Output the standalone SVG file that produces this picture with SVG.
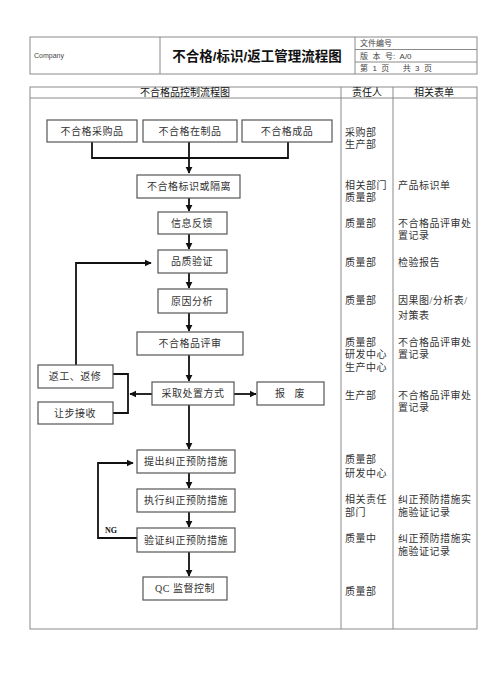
<svg xmlns="http://www.w3.org/2000/svg" width="500" height="694" viewBox="0 0 500 694">
<defs>
<marker id="arr" viewBox="0 0 10 10" refX="9" refY="5" markerWidth="4" markerHeight="4" orient="auto" markerUnits="strokeWidth">
<path d="M0,0 L10,5 L0,10 z" fill="#111"/>
</marker>
</defs>
<style>
.grid{fill:none;stroke:#8a8a8a;stroke-width:1}
.box{fill:#fff;stroke:#555;stroke-width:1.2}
.t{font-family:"Liberation Serif","Noto Sans CJK SC",serif;font-size:10px;fill:#333;letter-spacing:0.5px}
.c{text-anchor:middle}
.h{font-family:"Liberation Sans","Noto Sans CJK SC",sans-serif;font-size:10px;fill:#111;text-anchor:middle}
.s{font-family:"Liberation Sans","Noto Sans CJK SC",sans-serif;font-size:8px;fill:#444}
.con{fill:none;stroke:#111;stroke-width:1.8}
</style>
<rect width="500" height="694" fill="#fff"/>
<g id="header">
<rect class="grid" x="30" y="37" width="447" height="37"/>
<line class="grid" x1="160" y1="37" x2="160" y2="74"/>
<line class="grid" x1="355" y1="37" x2="355" y2="74"/>
<line class="grid" x1="355" y1="49.5" x2="477" y2="49.5"/>
<line class="grid" x1="355" y1="62" x2="477" y2="62"/>
<text x="34" y="58" font-family="Liberation Sans, sans-serif" font-size="7" fill="#444">Company</text>
<text x="257" y="61" font-family="'Liberation Sans', 'Noto Sans CJK SC', sans-serif" font-size="13.5" font-weight="bold" fill="#111" text-anchor="middle">不合格/标识/返工管理流程图</text>
<text class="s" x="360" y="46">文件编号</text>
<text class="s" x="360" y="59" xml:space="preserve">版  本  号:  A/0</text>
<text class="s" x="360" y="71" xml:space="preserve">第  1  页      共  3  页</text>
</g>
<g id="table">
<rect class="grid" x="30" y="87" width="447" height="542"/>
<line class="grid" x1="30" y1="98" x2="477" y2="98"/>
<line class="grid" x1="341" y1="87" x2="341" y2="629"/>
<line class="grid" x1="393" y1="87" x2="393" y2="629"/>
<text class="h" x="185" y="96">不合格品控制流程图</text>
<text class="h" x="367" y="96">责任人</text>
<text class="h" x="434" y="96">相关表单</text>
</g>
<g id="connectors">
<polyline class="con" points="92,142 92,158 288,158 288,142"/>
<line class="con" x1="189" y1="142" x2="189" y2="158"/>
<line class="con" x1="189" y1="158" x2="189" y2="173" marker-end="url(#arr)"/>
<line class="con" x1="189" y1="198" x2="189" y2="211" marker-end="url(#arr)"/>
<line class="con" x1="189" y1="234" x2="189" y2="249" marker-end="url(#arr)"/>
<line class="con" x1="189" y1="273" x2="189" y2="288" marker-end="url(#arr)"/>
<line class="con" x1="189" y1="313" x2="189" y2="331" marker-end="url(#arr)"/>
<line class="con" x1="189" y1="355" x2="189" y2="381" marker-end="url(#arr)"/>
<polyline class="con" points="76,365 76,263 151,263" marker-end="url(#arr)"/>
<polyline class="con" points="113,374 128,374 128,413 113,413"/>
<line class="con" x1="152" y1="394" x2="130" y2="394" marker-end="url(#arr)"/>
<line class="con" x1="234" y1="394" x2="256" y2="394" marker-end="url(#arr)"/>
<line class="con" x1="189" y1="405" x2="189" y2="449" marker-end="url(#arr)"/>
<line class="con" x1="189" y1="473" x2="189" y2="488" marker-end="url(#arr)"/>
<line class="con" x1="189" y1="512" x2="189" y2="527" marker-end="url(#arr)"/>
<line class="con" x1="189" y1="552" x2="189" y2="576" marker-end="url(#arr)"/>
<polyline class="con" points="137,538 98,538 98,463 133,463" marker-end="url(#arr)"/>
<text x="105" y="533" font-family="'Liberation Serif', serif" font-size="8" font-weight="bold" fill="#111">NG</text>
</g>
<g id="n1"><rect class="box" x="47" y="120" width="90" height="22"/><text class="t c" x="92" y="135">不合格采购品</text></g>
<g id="n2"><rect class="box" x="143" y="120" width="94" height="22"/><text class="t c" x="190" y="135">不合格在制品</text></g>
<g id="n3"><rect class="box" x="242" y="120" width="90" height="22"/><text class="t c" x="287" y="135">不合格成品</text></g>
<g id="n4"><rect class="box" x="137" y="175" width="103" height="23"/><text class="t c" x="189" y="190">不合格标识或隔离</text></g>
<g id="n5"><rect class="box" x="158" y="212" width="69" height="22"/><text class="t c" x="192" y="227">信息反馈</text></g>
<g id="n6"><rect class="box" x="158" y="250" width="69" height="23"/><text class="t c" x="192" y="265">品质验证</text></g>
<g id="n7"><rect class="box" x="158" y="289" width="69" height="24"/><text class="t c" x="192" y="305">原因分析</text></g>
<g id="n8"><rect class="box" x="137" y="332" width="106" height="23"/><text class="t c" x="190" y="347">不合格品评审</text></g>
<g id="n9"><rect class="box" x="38" y="365" width="75" height="23"/><text class="t c" x="75" y="380">返工、返修</text></g>
<g id="n10"><rect class="box" x="38" y="402" width="75" height="22"/><text class="t c" x="75" y="417">让步接收</text></g>
<g id="n11"><rect class="box" x="152" y="382" width="82" height="23"/><text class="t c" x="193" y="397">采取处置方式</text></g>
<g id="n12"><rect class="box" x="257" y="382" width="67" height="23"/><text class="t c" x="290" y="397" xml:space="preserve">报   废</text></g>
<g id="n13"><rect class="box" x="137" y="450" width="98" height="23"/><text class="t c" x="186" y="465">提出纠正预防措施</text></g>
<g id="n14"><rect class="box" x="137" y="489" width="98" height="23"/><text class="t c" x="186" y="504">执行纠正预防措施</text></g>
<g id="n15"><rect class="box" x="137" y="528" width="98" height="24"/><text class="t c" x="186" y="544">验证纠正预防措施</text></g>
<g id="n16"><rect class="box" x="143" y="577" width="84" height="23"/><text class="t c" x="185" y="592">QC 监督控制</text></g>
<g id="resp">
<text class="t" x="345" y="136">采购部</text>
<text class="t" x="345" y="148">生产部</text>
<text class="t" x="345" y="189">相关部门</text>
<text class="t" x="345" y="201">质量部</text>
<text class="t" x="345" y="227">质量部</text>
<text class="t" x="345" y="266">质量部</text>
<text class="t" x="345" y="304">质量部</text>
<text class="t" x="345" y="346">质量部</text>
<text class="t" x="345" y="358">研发中心</text>
<text class="t" x="345" y="371">生产中心</text>
<text class="t" x="345" y="399">生产部</text>
<text class="t" x="345" y="463">质量部</text>
<text class="t" x="345" y="477">研发中心</text>
<text class="t" x="345" y="503">相关责任</text>
<text class="t" x="345" y="516">部门</text>
<text class="t" x="345" y="542">质量中</text>
<text class="t" x="345" y="595">质量部</text>
</g>
<g id="forms">
<text class="t" x="398" y="189">产品标识单</text>
<text class="t" x="398" y="227">不合格品评审处</text>
<text class="t" x="398" y="239">置记录</text>
<text class="t" x="398" y="266">检验报告</text>
<text class="t" x="398" y="304">因果图/分析表/</text>
<text class="t" x="398" y="319">对策表</text>
<text class="t" x="398" y="346">不合格品评审处</text>
<text class="t" x="398" y="358">置记录</text>
<text class="t" x="398" y="399">不合格品评审处</text>
<text class="t" x="398" y="411">置记录</text>
<text class="t" x="398" y="503">纠正预防措施实</text>
<text class="t" x="398" y="516">施验证记录</text>
<text class="t" x="398" y="542">纠正预防措施实</text>
<text class="t" x="398" y="555">施验证记录</text>
</g>
</svg>
